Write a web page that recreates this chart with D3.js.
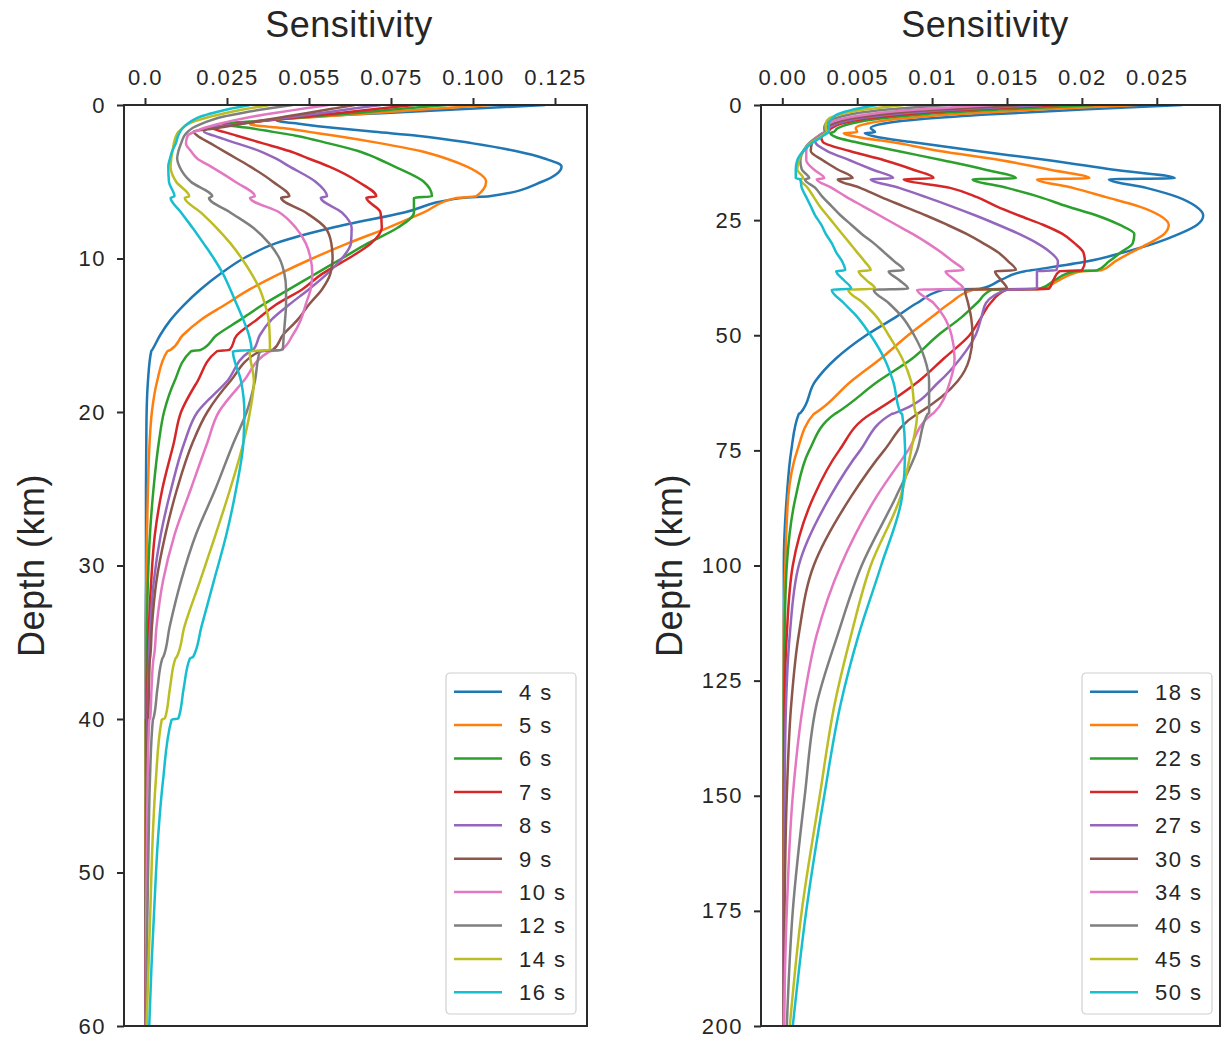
<!DOCTYPE html>
<html lang="en">
<head>
<meta charset="UTF-8">
<title>Sensitivity kernels</title>
<script src="https://d3js.org/d3.v7.min.js"></script>
<style>
  body { margin: 0; background: #fff; }
  svg text { font-family: "Liberation Sans", Arial, sans-serif; fill: #262626; }
</style>
</head>
<body>
<div id="chart"></div>
<script>
// depth samples (km)
const depthLeft = [0, 0.25, 0.5, 0.75, 1, 1.25, 1.5, 1.75, 2, 2.5, 3, 3.5, 4, 5, 5.95, 6.05, 7, 8, 9, 10, 11, 12, 13, 14, 15, 15.95, 16.05, 18, 20, 22, 25, 28, 31, 34, 35.95, 36.05, 38, 39.95, 40.05, 44, 48, 52, 56, 60];
const depthRight = [0, 1, 2, 3, 4, 5, 5.9, 6.1, 7, 8, 10, 12, 14, 15.9, 16.1, 18, 20, 22, 24, 26, 28, 30, 32, 34, 35.9, 36.1, 38, 39.9, 40.1, 43, 46, 50, 55, 60, 66.9, 67.1, 75, 85, 100, 115, 130, 150, 175, 200];

const periodsLeft = ['4 s', '5 s', '6 s', '7 s', '8 s', '9 s', '10 s', '12 s', '14 s', '16 s'];
const periodsRight = ['18 s', '20 s', '22 s', '25 s', '27 s', '30 s', '34 s', '40 s', '45 s', '50 s'];

const ticksLeft = [0, 0.025, 0.05, 0.075, 0.1, 0.125];
const tickLabelsLeft = ['0.0', '0.025', '0.055', '0.075', '0.100', '0.125'];
const ticksRight = [0, 0.005, 0.01, 0.015, 0.02, 0.025];
const tickLabelsRight = ['0.00', '0.005', '0.01', '0.015', '0.02', '0.025'];

// sensitivity values, left panel (short periods)
const k4 = [.122,.099,.075,.052,.040,.048,.058,.070,.083,.100,.113,.122,.127,.121,.105,.097,.079,.057,.040,.030,.023,.017,.012,.0078,.0046,.0022,.0019,.0009,.0005,.0004,.0003,.0003,.0003,.0002,.0002,.0002,.0002,.0002,.0002,.0002,.0002,.0002,.0002,.0002];
const k5 = [.105,.088,.071,.054,.037,.032,.042,.050,.058,.072,.084,.092,.098,.104,.101,.095,.085,.074,.062,.051,.041,.032,.0245,.017,.0115,.0078,.0068,.0037,.0021,.0014,.0009,.0006,.0004,.0003,.0003,.0003,.0003,.0003,.0002,.0002,.0002,.0002,.0002,.0002];
const k6 = [.092,.078,.065,.051,.037,.024,.032,.039,.046,.056,.065,.071,.076,.085,.0875,.082,.082,.077,.068,.060,.052,.044,.036,.029,.0218,.017,.014,.009,.0058,.0042,.0026,.0015,.0009,.0006,.0005,.0005,.0004,.0004,.0003,.0003,.0003,.0002,.0002,.0002];
const k7 = [.082,.071,.060,.049,.038,.027,.0205,.024,.028,.036,.044,.050,.056,.065,.0705,.0675,.0718,.0722,.069,.062,.054,.048,.040,.034,.028,.0258,.0219,.016,.011,.0088,.0053,.003,.0019,.0012,.0009,.0009,.0007,.0006,.0005,.0004,.0003,.0003,.0002,.0002];
const k8 = [.072,.063,.0545,.046,.037,.028,.0195,.018,.021,.028,.035,.040,.044,.052,.0555,.0536,.060,.063,.0628,.060,.0555,.050,.044,.0385,.035,.033,.032,.025,.016,.012,.008,.0048,.0027,.0016,.0012,.0012,.0009,.0008,.0007,.0005,.0004,.0003,.0003,.0002];
const k9 = [.064,.057,.050,.043,.036,.029,.022,.0148,.016,.020,.024,.028,.032,.039,.044,.0415,.049,.055,.0568,.0572,.0565,.054,.050,.0465,.042,.039,.035,.026,.019,.0145,.0098,.0062,.0035,.0021,.0016,.0015,.0012,.0010,.0009,.0006,.0004,.0003,.0003,.0002];
const k10 = [.056,.048,.040,.033,.027,.022,.018,.015,.013,.0125,.014,.016,.020,.0275,.0335,.032,.041,.046,.049,.0505,.051,.0505,.049,.0475,.045,.0415,.038,.030,.0225,.019,.014,.009,.0055,.0035,.0027,.0026,.0020,.0016,.0013,.0008,.0006,.0004,.0003,.0003];
const k12 = [.045,.037,.030,.024,.020,.017,.0145,.013,.012,.011,.0102,.0098,.0105,.014,.0205,.0195,.026,.033,.0378,.041,.0425,.043,.043,.0427,.0423,.042,.035,.0335,.031,.027,.0215,.0155,.011,.0075,.0056,.0053,.0038,.0026,.0024,.0015,.0011,.0008,.0005,.0003];
const k14 = [.038,.031,.025,.020,.016,.013,.0115,.0102,.0095,.0088,.0084,.008,.0078,.0095,.0135,.0121,.017,.0218,.026,.0295,.0325,.035,.0366,.0377,.038,.0381,.0319,.0332,.032,.030,.026,.0215,.0168,.012,.0097,.0093,.0076,.0061,.0051,.0033,.0023,.0017,.0011,.0005];
const k16 = [.032,.026,.021,.017,.0145,.0128,.0115,.0107,.0101,.0094,.0083,.0076,.0071,.0073,.009,.0078,.011,.0145,.0178,.021,.0238,.026,.028,.030,.0317,.0325,.0268,.0293,.0303,.030,.0278,.0248,.021,.0172,.0147,.0137,.0118,.0102,.0081,.0055,.0039,.0029,.002,.0013];

// sensitivity values, right panel (long periods)
const k18 = [.0267,.020,.014,.0095,.0068,.0059,.0062,.0055,.0064,.0085,.013,.0178,.022,.0262,.0218,.0243,.0264,.0276,.0281,.0277,.0265,.0249,.0228,.0203,.0166,.0162,.0146,.0132,.0108,.009,.0076,.0056,.0036,.0022,.0012,.0011,.0006,.0003,.0001,.0001,.0001,.0001,.0001,.0001];
const k20 = [.0237,.017,.0115,.0078,.0057,.0049,.005,.0041,.0051,.0072,.0105,.0146,.0178,.0205,.017,.0194,.0216,.0238,.0252,.0258,.0255,.0245,.0233,.0222,.0213,.02,.0185,.0172,.0128,.0112,.01,.0084,.0066,.0046,.0022,.0021,.001,.0004,.0002,.0001,.0001,.0001,.0001,.0001];
const k22 = [.0208,.0145,.0095,.0064,.0046,.0037,.0034,.0032,.0036,.0048,.0077,.0107,.0135,.0156,.0127,.015,.0172,.019,.021,.0225,.0235,.0234,.0226,.0218,.021,.0195,.0182,.0172,.014,.013,.012,.0104,.0087,.0064,.0036,.0035,.0018,.0009,.0003,.00015,.0001,.0001,.0001,.0001];
const k25 = [.0185,.0125,.0082,.0055,.004,.0033,.003,.0029,.0026,.0027,.0045,.0068,.0087,.0101,.0081,.0112,.013,.0143,.0158,.0174,.0187,.0195,.0201,.0202,.02,.0185,.0181,.0178,.015,.0139,.0133,.0125,.0108,.0091,.006,.0059,.0038,.0021,.0007,.0003,.00015,.0001,.0001,.0001];
const k27 = [.0174,.0115,.0075,.005,.0037,.0031,.0029,.0028,.0024,.0022,.003,.0045,.006,.0074,.0059,.0078,.0096,.0113,.0129,.0144,.0158,.017,.0179,.0184,.0183,.017,.017,.017,.015,.0136,.0133,.0129,.0119,.0105,.0075,.0073,.0052,.0032,.0011,.0005,.00025,.00015,.0001,.0001];
const k30 = [.0159,.0103,.0067,.0045,.0034,.0029,.0028,.0027,.0023,.002,.0019,.0027,.0037,.0047,.0037,.0052,.0066,.0081,.0096,.011,.0123,.0134,.0144,.0151,.0156,.0142,.0146,.015,.0122,.0124,.0126,.0127,.0125,.0117,.0091,.009,.0068,.0046,.0021,.0011,.0006,.0003,.00015,.0001];
const k34 = [.0141,.009,.0058,.004,.0031,.0028,.0028,.0027,.0023,.0019,.0016,.0016,.0021,.0028,.0023,.0033,.0043,.0054,.0065,.0076,.0087,.0097,.0106,.0114,.0121,.0109,.0115,.0121,.009,.0101,.0108,.0113,.0115,.0112,.0101,.01,.0084,.0063,.0039,.0023,.0014,.0007,.0003,.0001];
const k40 = [.011,.007,.0046,.0034,.0029,.0028,.0029,.0028,.0024,.0019,.0014,.0012,.0013,.0018,.0015,.0022,.0027,.0033,.0039,.0046,.0053,.0061,.0068,.0075,.0081,.0071,.0078,.0084,.0061,.0071,.008,.0088,.0095,.0098,.0098,.0097,.009,.0076,.0053,.0037,.0023,.0015,.0007,.0003];
const k45 = [.0081,.0055,.0039,.0031,.0029,.0029,.003,.0029,.0025,.002,.0014,.0011,.001,.0014,.0012,.0017,.0021,.0025,.003,.0035,.004,.0045,.005,.0055,.0059,.0051,.0056,.0062,.0044,.0054,.0063,.0071,.008,.0086,.0089,.009,.0086,.0079,.0059,.0046,.0035,.0025,.0013,.0005];
const k50 = [.0063,.0047,.0037,.0033,.0031,.0031,.0031,.003,.0026,.0021,.0014,.001,.0009,.0009,.0012,.0013,.0016,.0019,.0022,.0026,.0029,.0033,.0036,.004,.0042,.0036,.0041,.0046,.0033,.0041,.005,.0059,.0068,.0074,.0079,.008,.0082,.008,.0066,.0051,.0039,.0028,.0016,.0007];

const seriesLeft = [k4, k5, k6, k7, k8, k9, k10, k12, k14, k16];
const seriesRight = [k18, k20, k22, k25, k27, k30, k34, k40, k45, k50];

const colors = d3.schemeCategory10;

const svg = d3.select('#chart')
    .append('svg')
    .attr('width', 1223)
    .attr('height', 1038);

function drawPanel(p) {
    const x = d3.scaleLinear().domain(p.xDomain).range([p.left, p.right]);
    const y = d3.scaleLinear().domain(p.yDomain).range([p.top, p.bottom]);

    const g = svg.append('g');

    // clip for curves
    svg.append('clipPath').attr('id', p.id)
        .append('rect')
        .attr('x', p.left).attr('y', p.top)
        .attr('width', p.right - p.left).attr('height', p.bottom - p.top);

    const line = d3.line()
        .x(d => x(d[1]))
        .y(d => y(d[0]))
        .curve(d3.curveMonotoneY);

    g.append('g').attr('clip-path', `url(#${p.id})`)
        .selectAll('path')
        .data(p.series)
        .enter()
        .append('path')
        .attr('fill', 'none')
        .attr('stroke', (d, i) => colors[i])
        .attr('stroke-width', 2.5)
        .attr('stroke-linejoin', 'round')
        .attr('d', s => line(p.depth.map((dep, i) => [dep, s[i]])));

    // axes
    const xAxis = d3.axisTop(x)
        .tickValues(p.ticks)
        .tickFormat((d, i) => p.tickLabels[i])
        .tickSize(7)
        .tickPadding(13);
    const gx = g.append('g')
        .attr('transform', `translate(0,${p.top})`)
        .call(xAxis);

    const yAxis = d3.axisLeft(y)
        .tickValues(p.yTicks)
        .tickSize(7)
        .tickPadding(11);
    const gy = g.append('g')
        .attr('transform', `translate(${p.left},0)`)
        .call(yAxis);

    [gx, gy].forEach(a => {
        a.select('.domain').remove();
        a.selectAll('.tick line').attr('stroke', '#2b2b2b').attr('stroke-width', 2);
        a.selectAll('.tick text')
            .style('font-size', '22px')
            .style('letter-spacing', '1.5px')
            .attr('fill', '#262626');
    });

    // frame
    g.append('rect')
        .attr('x', p.left).attr('y', p.top)
        .attr('width', p.right - p.left).attr('height', p.bottom - p.top)
        .attr('fill', 'none')
        .attr('stroke', '#2b2b2b')
        .attr('stroke-width', 2);

    // titles
    g.append('text')
        .attr('x', p.titleX).attr('y', 37)
        .attr('text-anchor', 'middle')
        .style('font-size', '36px')
        .style('letter-spacing', '0.5px')
        .text('Sensitivity');

    g.append('text')
        .attr('transform', `translate(${p.labelX},${(p.top + p.bottom) / 2}) rotate(-90)`)
        .attr('text-anchor', 'middle')
        .attr('dy', '0.35em')
        .style('font-size', '36px')
        .style('letter-spacing', '0.5px')
        .text('Depth (km)');

    // legend
    const lg = g.append('g').attr('transform', `translate(${p.legendX},673)`);
    lg.append('rect')
        .attr('width', 130).attr('height', 341)
        .attr('rx', 4)
        .attr('fill', '#fff').attr('fill-opacity', 0.8)
        .attr('stroke', '#d0d0d0').attr('stroke-width', 1.2);

    const items = lg.selectAll('.item')
        .data(p.labels)
        .enter()
        .append('g')
        .attr('class', 'item')
        .attr('transform', (d, i) => `translate(0,${18.7 + i * 33.4})`);

    items.append('line')
        .attr('x1', 8).attr('x2', 56)
        .attr('stroke', (d, i) => colors[i])
        .attr('stroke-width', 2.5);

    items.append('text')
        .attr('x', 73)
        .attr('dy', '0.36em')
        .style('font-size', '22px')
        .style('letter-spacing', '1.5px')
        .text(d => d);
}

drawPanel({
    id: 'clipLeft',
    left: 124, right: 587, top: 105, bottom: 1026,
    xDomain: [-0.0064, 0.13476], yDomain: [0, 60],
    ticks: ticksLeft, tickLabels: tickLabelsLeft,
    yTicks: d3.range(0, 61, 10),
    depth: depthLeft, series: seriesLeft, labels: periodsLeft,
    titleX: 349, labelX: 31, legendX: 446
});

drawPanel({
    id: 'clipRight',
    left: 761, right: 1220, top: 105, bottom: 1026,
    xDomain: [-0.001422, 0.02922], yDomain: [0, 200],
    ticks: ticksRight, tickLabels: tickLabelsRight,
    yTicks: d3.range(0, 201, 25),
    depth: depthRight, series: seriesRight, labels: periodsRight,
    titleX: 985, labelX: 669, legendX: 1082
});
</script>
</body>
</html>
